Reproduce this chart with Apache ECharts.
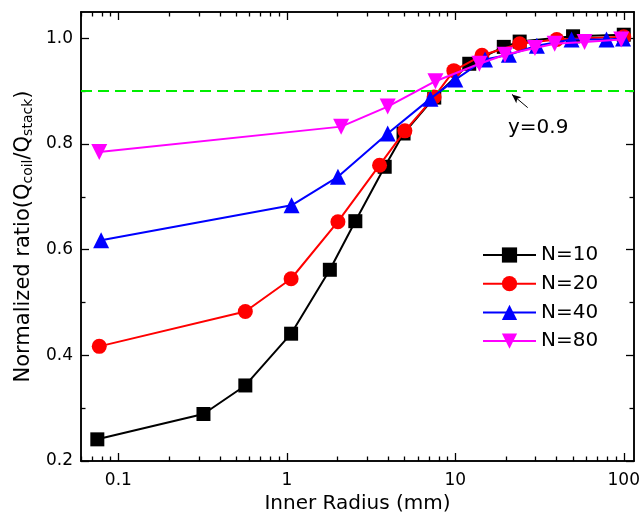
<!DOCTYPE html>
<html>
<head>
<meta charset="utf-8">
<script src="https://cdn.jsdelivr.net/npm/echarts@6/dist/echarts.min.js"></script>
<style>html,body{margin:0;padding:0;background:#fff}#c{width:643px;height:525px}</style>
</head>
<body>
<div id="c"></div>
<script>
// ---- data ----
const seriesNames = ['N=10', 'N=20', 'N=40', 'N=80'];
const x10 = [0.075, 0.32, 0.567, 1.06, 1.80, 2.55, 3.81, 4.93, 7.5, 12.1, 19.4, 24.1, 50, 100];
const y10 = [0.241, 0.289, 0.343, 0.441, 0.562, 0.654, 0.757, 0.820, 0.888, 0.952, 0.984, 0.994, 1.004, 1.007];
const x20 = [0.077, 0.567, 1.06, 2.01, 3.55, 5.02, 7.48, 9.8, 14.4, 24.1, 40, 100];
const y20 = [0.417, 0.483, 0.545, 0.653, 0.760, 0.825, 0.889, 0.939, 0.968, 0.990, 0.998, 1.003];
const x40 = [0.079, 1.067, 2.01, 3.97, 7.12, 10.0, 15.0, 20.8, 30.5, 49, 79, 99];
const y40 = [0.618, 0.684, 0.738, 0.820, 0.886, 0.922, 0.960, 0.969, 0.986, 0.998, 0.998, 1.0];
const x80 = [0.077, 2.10, 3.97, 7.62, 13.9, 19.7, 29.7, 38.9, 58.5, 96.6];
const y80 = [0.785, 0.833, 0.871, 0.919, 0.952, 0.969, 0.982, 0.990, 0.993, 0.998];
const xMajorTicks = [0.1, 1, 10, 100];
const xMinorTicks = [0.06, 0.07, 0.08, 0.09, 0.2, 0.3, 0.4, 0.5, 0.6, 0.7, 0.8, 0.9,
  2, 3, 4, 5, 6, 7, 8, 9, 20, 30, 40, 50, 60, 70, 80, 90];
const yMajorTicks = [0.2, 0.4, 0.6, 0.8, 1.0];
const yMinorTicks = [0.3, 0.5, 0.7, 0.9];
const refY = 0.9;
const refLabel = 'y=0.9';
const arrowFrom = [26.9, 0.869];
const arrowTo = [21.7, 0.894];

const FONT = 'DejaVu Sans';
const colors = ['#000000', '#ff0000', '#0000ff', '#ff00ff'];
const symbols = ['rect', 'circle', 'triangle', 'triangle'];
const rotates = [0, 0, 0, 180];
const sizes = [14, 15, 16, 16];
const xs = [x10, x20, x40, x80];
const ys = [y10, y20, y40, y80];

const axisLineStyle = {show: true, lineStyle: {color: '#000', width: 1.5}};
function xAx(pos, major, labels) {
  return {
    type: 'log', logBase: 10, min: 0.06, max: 115, position: pos,
    axisLine: axisLineStyle,
    splitLine: {show: false},
    axisTick: {show: true, inside: true, length: major ? 8 : 4.5,
      lineStyle: {color: '#000', width: 1.3},
      customValues: major ? xMajorTicks : xMinorTicks},
    axisLabel: labels ? {show: true, customValues: xMajorTicks, fontSize: 17, fontFamily: FONT,
      color: '#000', margin: 11, formatter: v => String(v)} : {show: false},
    minorTick: {show: false}
  };
}
function yAx(pos, major, labels) {
  return {
    type: 'value', min: 0.2, max: 1.05, position: pos,
    axisLine: axisLineStyle,
    splitLine: {show: false},
    axisTick: {show: true, inside: true, length: major ? 8 : 4.5,
      lineStyle: {color: '#000', width: 1.3},
      customValues: major ? yMajorTicks : yMinorTicks},
    axisLabel: labels ? {show: true, customValues: yMajorTicks, fontSize: 17, fontFamily: FONT,
      color: '#000', margin: 8, formatter: v => v.toFixed(1)} : {show: false}
  };
}

const xAxes = [xAx('bottom', true, true), xAx('bottom', false, false), xAx('top', true, false), xAx('top', false, false)];
xAxes[0].name = 'Inner Radius (mm)';
xAxes[0].nameLocation = 'middle';
xAxes[0].nameGap = 28;
xAxes[0].nameTextStyle = {fontSize: 20, fontFamily: FONT, color: '#000'};

const yAxes = [yAx('left', true, true), yAx('left', false, false), yAx('right', true, false), yAx('right', false, false)];
yAxes[0].name = '{a|Normalized ratio(Q}{s|coil}{a|/Q}{s|stack}{a|)}';
yAxes[0].nameLocation = 'middle';
yAxes[0].nameRotate = 90;
yAxes[0].nameGap = 41;
yAxes[0].nameTextStyle = {
  fontSize: 21, fontFamily: FONT, color: '#000',
  rich: {
    a: {fontSize: 21, fontFamily: FONT, color: '#000', lineHeight: 24},
    s: {fontSize: 14, fontFamily: FONT, color: '#000', lineHeight: 12, verticalAlign: 'bottom'}
  }
};

const series = seriesNames.map((n, i) => ({
  name: n, type: 'line',
  xAxisIndex: 0, yAxisIndex: 0,
  data: xs[i].map((x, j) => [x, ys[i][j]]),
  symbol: symbols[i], symbolSize: sizes[i], symbolRotate: rotates[i],
  showAllSymbol: true,
  lineStyle: {color: colors[i], width: 2},
  itemStyle: {color: colors[i]},
  z: 3 + i
}));
series.push({
  name: 'ref', type: 'line', xAxisIndex: 0, yAxisIndex: 0, data: [], z: 2,
  markLine: {
    silent: true, animation: false,
    label: {show: false},
    symbol: ['none', 'none'],
    data: [
      {yAxis: refY, lineStyle: {color: '#00ee00', width: 2, type: [11, 6]}},
      [{coord: arrowFrom, symbol: 'none', lineStyle: {color: '#000', width: 1, type: 'solid'}},
       {coord: arrowTo, symbol: 'arrow', symbolSize: [6, 9]}]
    ]
  }
});

const chart = echarts.init(document.getElementById('c'), null, {renderer: 'canvas'});
chart.setOption({
  animation: false,
  backgroundColor: '#fff',
  grid: {left: 81, right: 6, top: 12, bottom: 64, containLabel: false},
  xAxis: xAxes,
  yAxis: yAxes,
  legend: {
    data: seriesNames, orient: 'vertical', left: 477, top: 240,
    itemWidth: 53, itemHeight: 19, itemGap: 8.7,
    textStyle: {fontSize: 20, fontFamily: FONT, color: '#000', lineHeight: 20},
    selectedMode: false
  },
  graphic: [{type: 'text', left: 508, top: 118, silent: true,
    style: {text: refLabel, fontSize: 20, fontFamily: FONT, fill: '#000'}}],
  series: series
});
</script>
</body>
</html>
